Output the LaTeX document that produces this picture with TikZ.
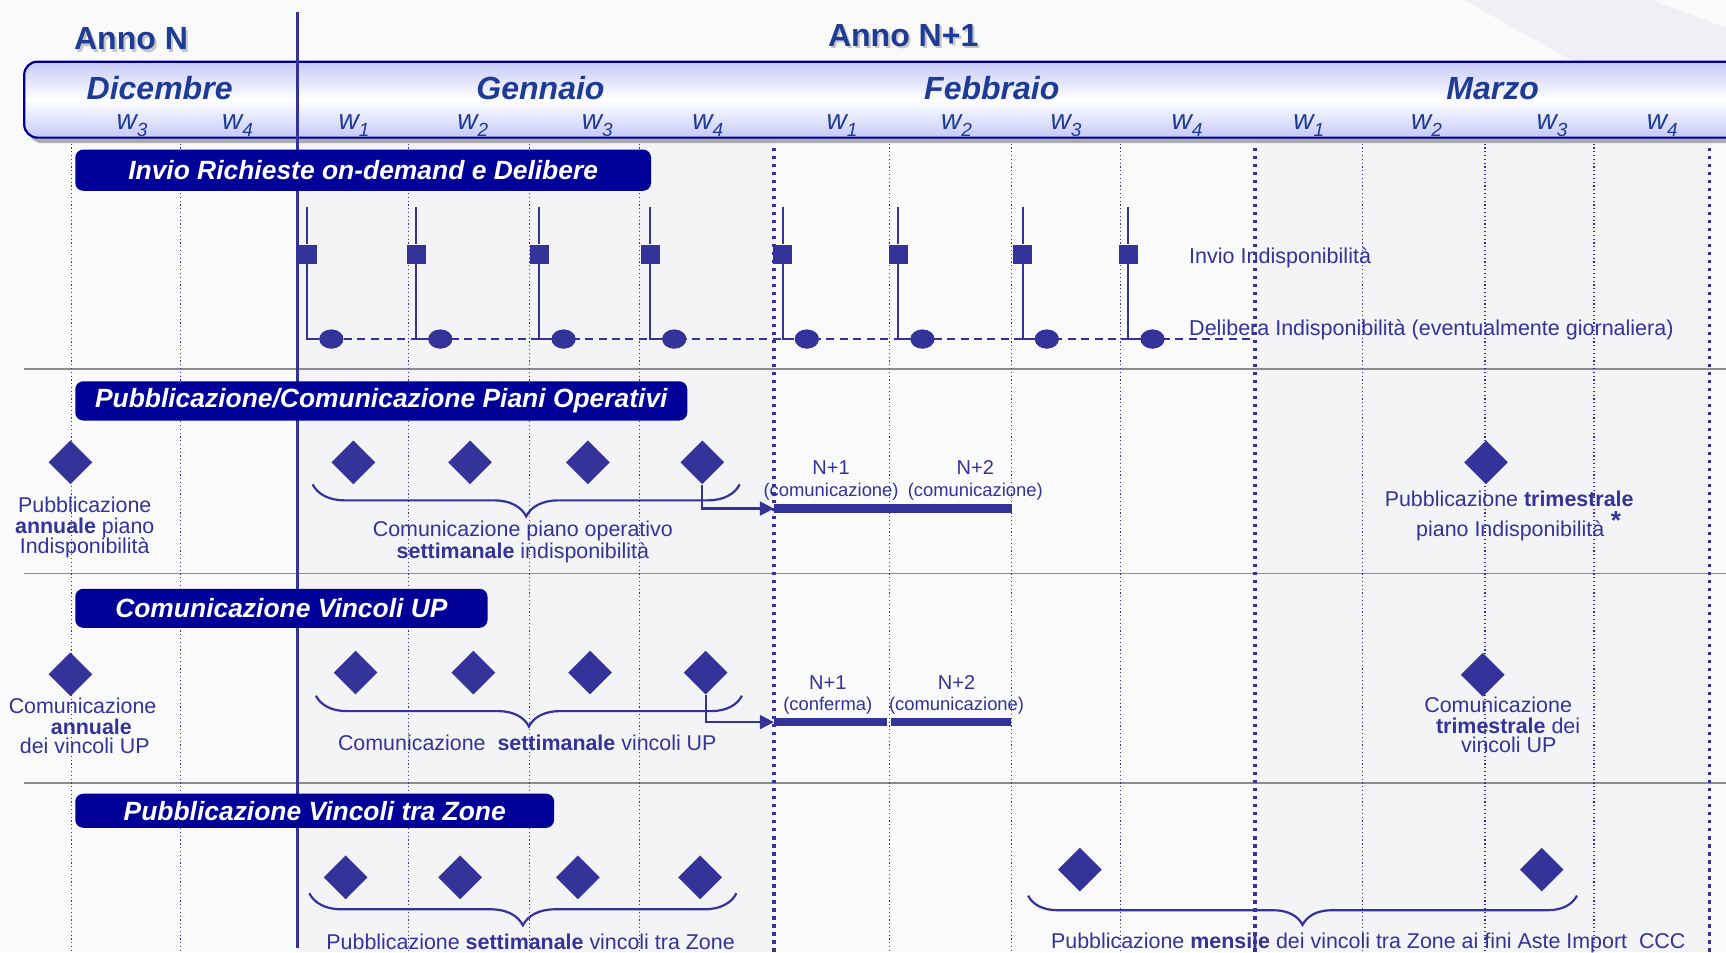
\documentclass[tikz,border=0pt]{standalone}
\usepackage{fontspec}
\setmainfont{Liberation Sans}
\usetikzlibrary{arrows.meta,decorations.pathreplacing,shapes.geometric}
\definecolor{tblue}{HTML}{1E3C96}
\definecolor{mk}{HTML}{333399}
\definecolor{bxblue}{HTML}{000099}
\definecolor{hdr}{HTML}{C6CAF7}
\definecolor{sepgray}{HTML}{8C8C8C}
\definecolor{bgc}{HTML}{FAFAFA}
\definecolor{bgdot}{HTML}{F4F4F6}
\definecolor{decor}{HTML}{EEF0F4}
\newcommand\wkl[1]{w\raisebox{-3.3pt}{\fontsize{9.5}{10}\selectfont #1}}
\tikzset{
 yeartitle/.style={font=\fontsize{16}{18}\selectfont\bfseries, text=tblue, anchor=base, inner sep=0},
 monthtitle/.style={font=\fontsize{16}{18}\selectfont\bfseries\itshape, text=tblue, anchor=base, inner sep=0},
 wklabel/.style={font=\fontsize{14}{16}\selectfont\itshape, text=tblue, anchor=base, inner sep=0},
 weekline/.style={mk, line width=0.6pt, dash pattern=on 0.6pt off 1.3pt},
 monthline/.style={mk, line width=1.7pt, dash pattern=on 1.6pt off 2.4pt},
 yearline/.style={mk, line width=1.7pt},
 sepline/.style={sepgray, line width=0.9pt},
 secbox/.style={fill=bxblue, rounded corners=4pt, text=white, font=\fontsize{13.2}{15}\selectfont\bfseries\itshape, inner sep=0, anchor=north west},
 sq/.style={fill=mk, minimum width=9.5pt, minimum height=9.5pt, inner sep=0},
 dot/.style={ellipse, fill=mk, minimum width=12pt, minimum height=9.5pt, inner sep=0},
 dmd/.style={diamond, fill=mk, minimum width=22pt, minimum height=22pt, inner sep=0},
 stem/.style={mk, line width=1pt},
 dline/.style={mk, line width=1.1pt, dash pattern=on 4pt off 2.7pt},
 brc/.style={mk, line width=1.1pt, decorate, decoration={brace, mirror, amplitude=#1}},
 arr/.style={mk, line width=1.1pt, -{Triangle[length=7pt,width=7pt]}},
 bar/.style={mk, line width=4.5pt},
 body/.style={text=mk, font=\fontsize{10.7}{12}\selectfont, anchor=base, inner sep=0},
 bodyw/.style={text=mk, font=\fontsize{10.75}{13}\selectfont, anchor=base west, inner sep=0},
 small/.style={text=mk, font=\fontsize{9.2}{11}\selectfont, anchor=base, inner sep=0},
 nlab/.style={text=mk, font=\fontsize{10}{12}\selectfont, anchor=base, inner sep=0},
}
\begin{document}
\begin{tikzpicture}[x=0.55pt, y=-0.55pt]
\useasboundingbox (0,0) rectangle (1568,865);
\clip (0,0) rectangle (1568,865);
% background
\fill[bgc] (0,0) rectangle (1568,865);
\fill[decor] (1330,0) -- (1500,0) -- (1568,25) -- (1568,56) -- (1430,56) -- cycle;
\fill[bgdot] (270,125) rectangle (703,865);
\fill[bgdot] (1140,125) rectangle (1553,865);
% separators
\foreach \y in {335,521,711} \draw[sepline] (22,\y) -- (1568,\y);
% week and month lines
\foreach \x in {65,164,371,481,581,808,919,1018,1238,1349,1448} \draw[weekline] (\x,127) -- (\x,865);
\foreach \x in {703,1140,1553} \draw[monthline] (\x,127) -- (\x,865);
% header band
\fill[gray!65, rounded corners=6.6pt] (26,61) rectangle (1600,130);
\shade[top color=hdr, bottom color=hdr, middle color=white, rounded corners=6.6pt] (22,56) rectangle (1600,125);
\draw[bxblue, line width=1.1pt, rounded corners=6.6pt] (22,56) rectangle (1600,125);
% year divider
\draw[yearline] (270,11) -- (270,861);
% titles
\node[yeartitle, text=gray!45] (annoNs) at (121,47.4) {Anno N};
\node[yeartitle] (annoN) at (119,45.4) {Anno N};
\node[yeartitle, text=gray!45] (annoN1s) at (822.5,44.4) {Anno N+1};
\node[yeartitle] (annoN1) at (820.5,42.4) {Anno N+1};
\node[monthtitle] (mdic) at (145,90.5) {Dicembre};
\node[monthtitle] (mgen) at (491,90.5) {Gennaio};
\node[monthtitle] (mfeb) at (901,90.5) {Febbraio};
\node[monthtitle] (mmar) at (1356,90.5) {Marzo};
% week labels
\node[wklabel] (wd3) at (120,118) {\wkl{3}};
\node[wklabel] (wd4) at (215.7,118) {\wkl{4}};
\node[wklabel] (wg1) at (321.6,118) {\wkl{1}};
\node[wklabel] (wg2) at (429.4,118) {\wkl{2}};
\node[wklabel] (wg3) at (542.5,118) {\wkl{3}};
\node[wklabel] (wg4) at (643,118) {\wkl{4}};
\node[wklabel] (wf1) at (765,118) {\wkl{1}};
\node[wklabel] (wf2) at (869,118) {\wkl{2}};
\node[wklabel] (wf3) at (968.5,118) {\wkl{3}};
\node[wklabel] (wf4) at (1078.3,118) {\wkl{4}};
\node[wklabel] (wm1) at (1189,118) {\wkl{1}};
\node[wklabel] (wm2) at (1296,118) {\wkl{2}};
\node[wklabel] (wm3) at (1410,118) {\wkl{3}};
\node[wklabel] (wm4) at (1510,118) {\wkl{4}};
% section boxes
\node[secbox, minimum width=287.7pt, minimum height=20.6pt] (box1) at (68,135.5) {Invio Richieste on-demand e Delibere};
\node[secbox, minimum width=305.8pt, minimum height=19.6pt] (box2) at (68,346) {Pubblicazione/Comunicazione Piani Operativi};
\node[secbox, minimum width=206pt, minimum height=19.5pt] (box3) at (68,534.5) {Comunicazione Vincoli UP};
\node[secbox, minimum width=239.3pt, minimum height=17pt] (box4) at (68,720.7) {Pubblicazione Vincoli tra Zone};
% ---------- section 1
\coordinate (dend) at (1140,308);
\foreach \i/\x in {1/279,2/378,3/490,4/590.5,5/711,6/816,7/929,8/1025} {
  \node[sq] (s\i) at (\x,231) {};
  \coordinate (t\i) at (\x,188);
  \node[dot] (c\i) at (\x+22,308) {};
}
\draw[dline] (c1.east) -- (dend);
\foreach \i in {1,...,8} {
  \draw[stem] (t\i) -- (s\i.north);
  \draw[stem] (s\i.south) |- (c\i.west);
}
\foreach \i/\x in {1/279,2/378,3/490,4/590.5,5/711,6/816,7/929,8/1025} {
  \node[dot] (cc\i) at (\x+22,308) {};
}
\node[bodyw] (invio) at (1080,239.3) {Invio Indisponibilità};
\node[bodyw] (delib) at (1080,304.6) {Delibera Indisponibilità (eventualmente giornaliera)};
% ---------- section 2
\node[dmd] (d21) at (64,420) {};
\node[dmd] (d22) at (321,420) {};
\node[dmd] (d23) at (427,420) {};
\node[dmd] (d24) at (534,420) {};
\node[dmd] (d25) at (638,420) {};
\node[dmd] (d26) at (1350,420) {};
\coordinate (br2a) at (284,440);
\coordinate (br2b) at (672,440);
\draw[brc=16pt] (br2a) -- (br2b);
\coordinate (a2) at (703,462);
\coordinate (a2m) at (807.5,462);
\coordinate (a2e) at (919,462);
\draw[bar] (a2) -- (a2m);
\draw[bar] (a2m) -- (a2e);
\draw[arr] (d25.south) |- (a2);
\node[nlab] (n21) at (755,430.6) {N+1};
\node[small] (n21c) at (755,450.6) {(comunicazione)};
\node[nlab] (n22) at (886,430.6) {N+2};
\node[small] (n22c) at (886,450.6) {(comunicazione)};
\node[body] (p2l1) at (77,465.7) {Pubblicazione};
\node[body] (p2l2) at (77,484.5) {\textbf{annuale} piano};
\node[body] (p2l3) at (77,502.7) {Indisponibilità};
\node[body] (p2b1) at (475,487.5) {Comunicazione piano operativo};
\node[body] (p2b2) at (475,507.2) {\textbf{settimanale} indisponibilità};
\node[body] (p2r1) at (1371,460.3) {Pubblicazione \textbf{trimestrale}};
\node[body] (p2r2) at (1372,487.5) {piano Indisponibilità};
\node[text=mk, font=\fontsize{13}{14}\selectfont\bfseries, anchor=base, inner sep=0] (p2ast) at (1468,481) {*};
% ---------- section 3
\node[dmd] (d31) at (64,612.6) {};
\node[dmd] (d32) at (323,611) {};
\node[dmd] (d33) at (430,611) {};
\node[dmd] (d34) at (536,611) {};
\node[dmd] (d35) at (641,611) {};
\node[dmd] (d36) at (1347,613) {};
\coordinate (br3a) at (287,632);
\coordinate (br3b) at (674,632);
\draw[brc=15.4pt] (br3a) -- (br3b);
\coordinate (a3) at (703,656);
\coordinate (a3m) at (806,656);
\coordinate (a3n) at (809,656);
\coordinate (a3e) at (918,656);
\draw[bar, line width=4.2pt] (a3) -- (a3m);
\draw[bar, line width=4.2pt] (a3n) -- (a3e);
\draw[arr] (d35.south) |- (a3);
\node[nlab] (n31) at (752,626.8) {N+1};
\node[small] (n31c) at (752,645) {(conferma)};
\node[nlab] (n32) at (869,626.8) {N+2};
\node[small] (n32c) at (869,645) {(comunicazione)};
\node[body] (p3l1) at (75,648) {Comunicazione};
\node[body] (p3l2) at (83,666.8) {\textbf{annuale}};
\node[body] (p3l3) at (77,684.3) {dei vincoli UP};
\node[body] (p3b1) at (479,682) {Comunicazione\ \ \textbf{settimanale} vincoli UP};
\node[body] (p3r1) at (1361,647.4) {Comunicazione};
\node[body] (p3r2) at (1370,666) {\textbf{trimestrale} dei};
\node[body] (p3r3) at (1370.6,684) {vincoli UP};
% ---------- section 4
\node[dmd] (d41) at (314,797) {};
\node[dmd] (d42) at (418,797) {};
\node[dmd] (d43) at (525,797) {};
\node[dmd] (d44) at (636,797) {};
\node[dmd] (d45) at (981,790) {};
\node[dmd] (d46) at (1400.6,790) {};
\coordinate (br4a) at (281,811.5);
\coordinate (br4b) at (669,811.5);
\draw[brc=16pt] (br4a) -- (br4b);
\coordinate (br5a) at (934,813.6);
\coordinate (br5b) at (1432.6,813.6);
\draw[brc=14.6pt] (br5a) -- (br5b);
\node[body] (p4b1) at (482,863) {Pubblicazione \textbf{settimanale} vincoli tra Zone};
\node[body] (p4b2) at (1243,861.5) {Pubblicazione \textbf{mensile} dei vincoli tra Zone ai fini Aste Import\ \ CCC};
\end{tikzpicture}
\end{document}
